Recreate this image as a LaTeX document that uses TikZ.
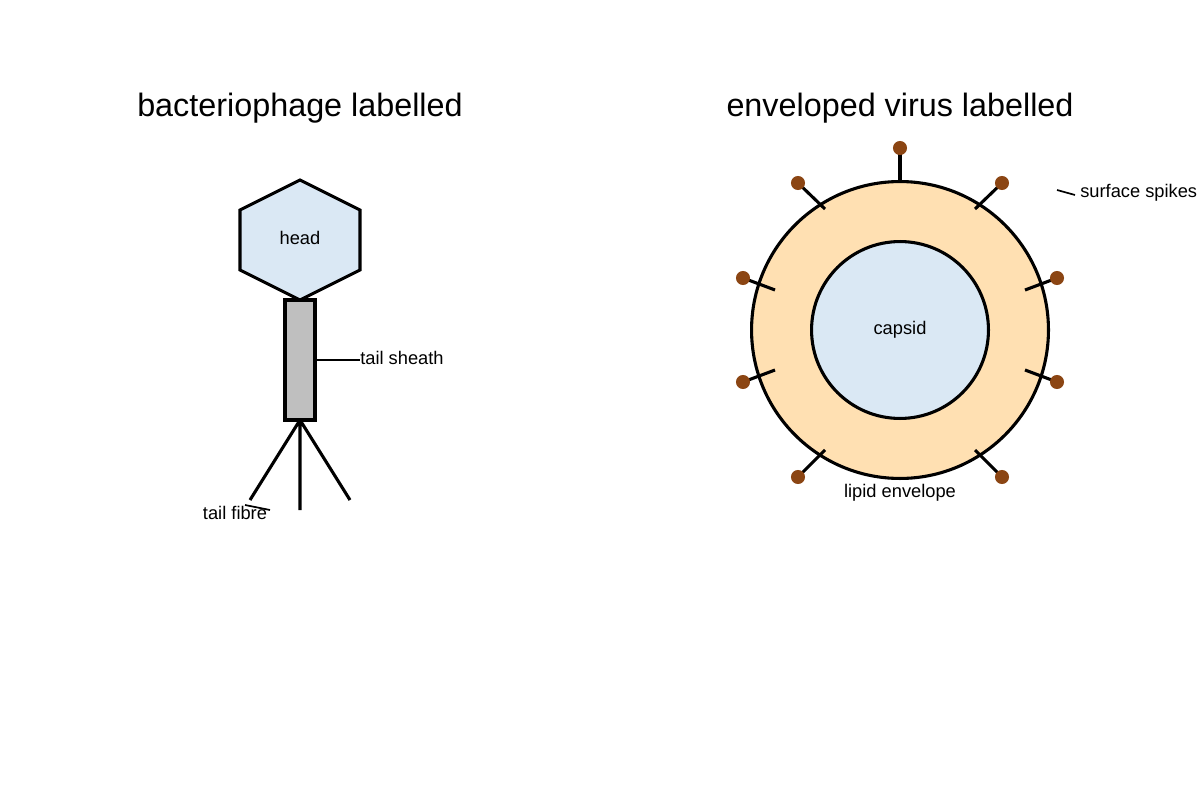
\documentclass[tikz,border=0pt]{standalone}
\usepackage{fontspec}
\setmainfont{Liberation Sans}
\begin{document}
\begin{tikzpicture}[x=0.025cm,y=-0.025cm,
  ln/.style={line width=2.2pt,black},
  lbl/.style={font=\fontsize{13}{15}\selectfont,inner sep=0},
  ttl/.style={font=\fontsize{23}{27}\selectfont,inner sep=0},
  ball/.style={circle,fill=brown!80!black,fill=spk,inner sep=0,minimum size=10pt}]
\definecolor{spk}{HTML}{8B4513}
\definecolor{lb}{HTML}{DAE8F4}
\definecolor{env}{HTML}{FFE0B2}
\useasboundingbox (0,0) rectangle (1200,800);
\node[ttl] (t1) at (300,108) {bacteriophage labelled};
\node[ttl] (t2) at (900,108) {enveloped virus labelled};
% phage
\draw[ln,fill=lb] (300,180)--(360,210)--(360,270)--(300,300)--(240,270)--(240,210)--cycle;
\node[lbl] (head) at (300,238) {head};
\draw[ln,fill=black!25] (285,300) rectangle (315,420);
\coordinate (base) at (300,420);
\draw[ln] (base)--(250,500) (base)--(300,510) (base)--(350,500);
\draw[line width=1.2pt] (315,360)--(360,360);
\node[lbl,anchor=west] (ts) at (360,358) {tail sheath};
\node[lbl] (tf) at (235,513) {tail fibre};
\draw[line width=1.2pt] (245,505)--(270,510);
% virus
\node[circle,draw,ln,fill=env,minimum size=300*0.025cm-2.2pt,inner sep=0] (env) at (900,330) {};
\node[circle,draw,ln,fill=lb,minimum size=180*0.025cm-2.2pt,inner sep=0] (cap) at (900,330) {};
\node[lbl] at (cap) {capsid};
\foreach \a/\b/\c/\d in {900/180/900/148, 975/209/1002/183, 825/209/798/183,
  1025/290/1057/278, 775/290/743/278, 1025/370/1057/382, 775/370/743/382,
  975/450/1002/477, 825/450/798/477}{
  \draw[ln] (\a,\b)--(\c,\d);
  \node[ball] at (\c,\d) {};
}
\node[lbl] (le) at (900,493) {lipid envelope};
\draw[line width=1.2pt] (1057,190)--(1075,195);
\node[lbl,anchor=west] (ss) at (1080,193) {surface spikes};
\end{tikzpicture}
\end{document}
